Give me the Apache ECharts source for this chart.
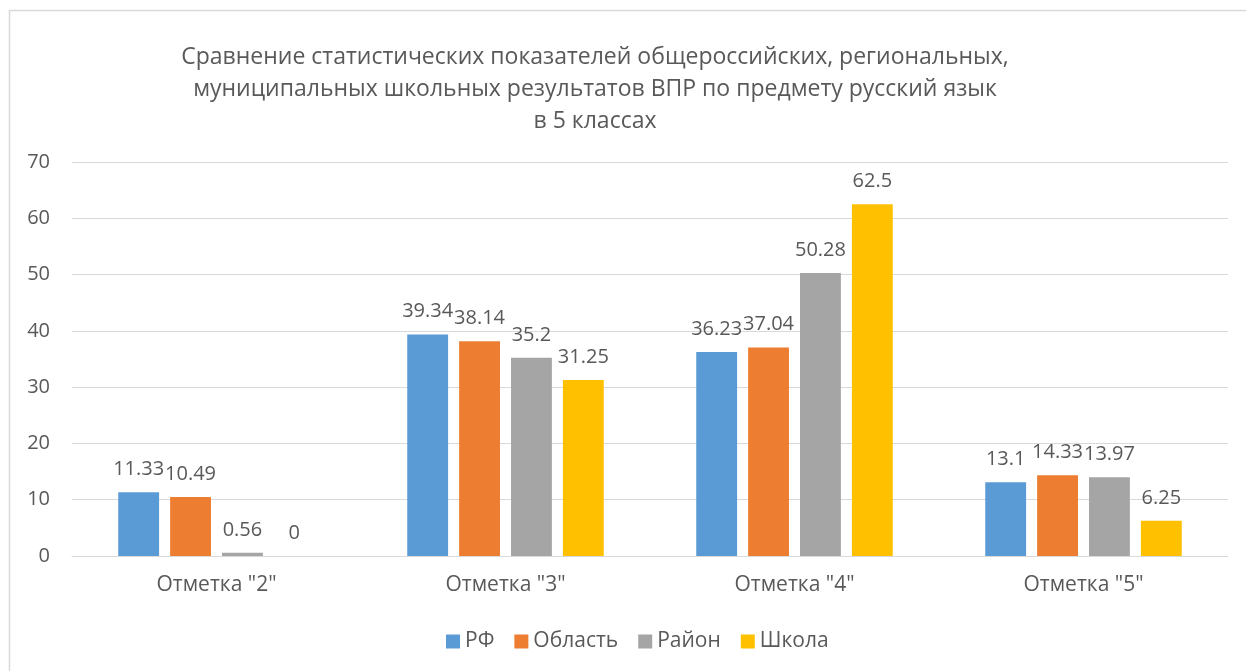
<!DOCTYPE html>
<html>
<head>
<meta charset="utf-8">
<script src="https://cdn.jsdelivr.net/npm/echarts@6/dist/echarts.min.js"></script>
<style>
html,body{margin:0;padding:0;background:#fff;}
#chart{width:1246px;height:671px;}
</style>
</head>
<body>
<div id="chart"></div>
<script>
const categories = ['Отметка "2"', 'Отметка "3"', 'Отметка "4"', 'Отметка "5"'];
const seriesNames = ['РФ', 'Область', 'Район', 'Школа'];
const rf = [11.33, 39.34, 36.23, 13.1];
const oblast = [10.49, 38.14, 37.04, 14.33];
const rayon = [0.56, 35.2, 50.28, 13.97];
const shkola = [0, 31.25, 62.5, 6.25];
const colors = ['#5B9BD5', '#ED7D31', '#A5A5A5', '#FFC000'];
const titleText = 'Сравнение статистических показателей общероссийских, региональных,\nмуниципальных школьных результатов ВПР по предмету русский язык\nв 5 классах';

const FONT = 'Open Sans';
const TXT = '#595959';
const values = [rf, oblast, rayon, shkola];

const chart = echarts.init(document.getElementById('chart'), null, {renderer: 'canvas'});
chart.setOption({
  animation: false,
  backgroundColor: '#fff',
  color: colors,
  textStyle: {fontFamily: FONT, color: TXT},
  graphic: [{
    type: 'rect', z: 100, silent: true,
    shape: {x: 9.5, y: 10.5, width: 1300, height: 700},
    style: {fill: 'none', stroke: '#D9D9D9', lineWidth: 1.5}
  }],
  title: {
    text: titleText,
    left: 590, textAlign: 'center', top: 36,
    textStyle: {fontFamily: FONT, fontSize: 23, fontWeight: 'normal', color: TXT, lineHeight: 32}
  },
  grid: {left: 72, right: 18, top: 162, bottom: 115, containLabel: false},
  legend: {
    data: seriesNames,
    left: 446, top: 631, padding: 0,
    icon: 'rect', itemWidth: 14, itemHeight: 14, itemGap: 20,
    textStyle: {fontFamily: FONT, fontSize: 21, color: TXT}
  },
  xAxis: {
    type: 'category', data: categories,
    axisLine: {lineStyle: {color: '#D9D9D9', width: 1}},
    axisTick: {show: false},
    axisLabel: {fontFamily: FONT, fontSize: 21, color: TXT, margin: 19}
  },
  yAxis: {
    type: 'value', min: 0, max: 70, interval: 10,
    axisLine: {show: false}, axisTick: {show: false},
    splitLine: {lineStyle: {color: '#D9D9D9', width: 1}},
    axisLabel: {fontFamily: FONT, fontSize: 20, color: TXT, margin: 22}
  },
  series: seriesNames.map((n, i) => ({
    name: n, type: 'bar', data: values[i],
    barGap: '27%', barCategoryGap: '32%',
    itemStyle: {color: colors[i]},
    label: {show: true, position: 'top', distance: 13, fontFamily: FONT, fontSize: 20, color: TXT}
  }))
});
</script>
</body>
</html>
